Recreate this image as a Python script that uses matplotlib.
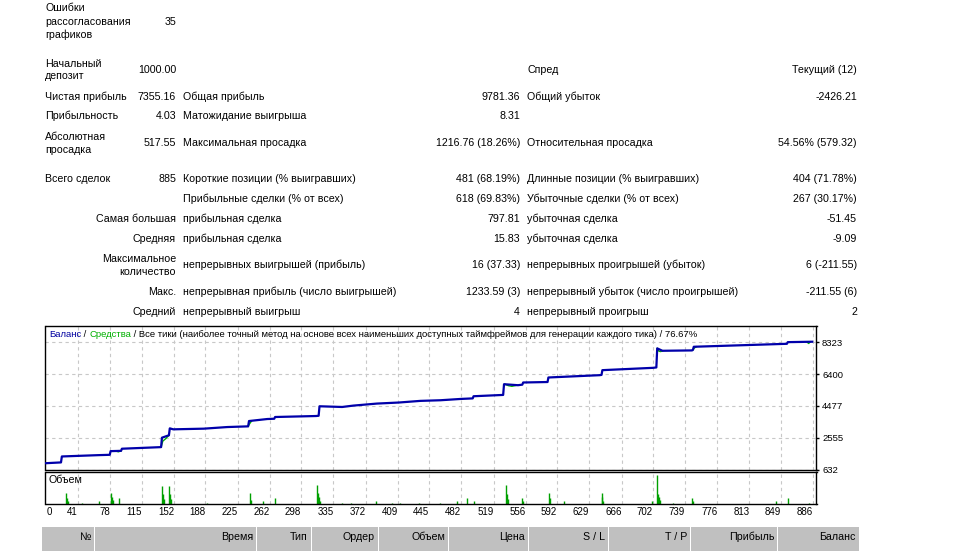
import matplotlib
matplotlib.use("Agg")
import matplotlib.pyplot as plt

plt.rcParams['font.family'] = ['Liberation Sans', 'DejaVu Sans']

W, H = 954, 551

# --- balance curve (trade number, balance) ---
bal_n = [0, 22, 23, 65, 78, 79, 91, 92, 137, 138, 146, 147, 151, 186, 213, 237, 238,
         259, 267, 268, 315, 318, 319, 345, 358, 385, 410, 435, 458, 481, 495, 496,
         530, 531, 547, 552, 553, 581, 582, 641, 643, 644, 702, 706, 707, 713, 747,
         748, 749, 856, 857, 885]
bal_v = [1000, 1060, 1420, 1500, 1520, 1742, 1760, 1888, 1985, 2555, 2700, 3119, 3060,
         3100, 3198, 3240, 3562, 3683, 3700, 3805, 3865, 3880, 4454, 4411, 4495, 4617,
         4680, 4780, 4818, 4896, 4930, 5060, 5140, 5788, 5727, 5760, 5891, 5920, 6194,
         6334, 6350, 6637, 6777, 6800, 7953, 7808, 7830, 7860, 8051, 8230, 8330, 8355]

# equity only differs from balance in a few short stretches
eq_parts = [
    ([137, 139, 142, 146], [1985, 2350, 2480, 2700]),
    ([85, 88, 91], [1742, 1700, 1760]),
    ([237, 239, 241], [3240, 3420, 3562]),
    ([532, 536, 540, 546], [5788, 5700, 5660, 5727]),
    ([707, 709, 711, 713], [7953, 7780, 7760, 7808]),
    ([748, 750, 752], [7860, 7990, 8051]),
    ([879, 881, 883], [8340, 8250, 8350]),
]

# --- volume bars (trade number, lots) ---
vol_n = [28, 29, 30, 46, 66, 80, 81, 82, 89, 138, 139, 140, 146, 147, 148, 190, 239,
         240, 254, 268, 316, 317, 318, 319, 345, 355, 384, 402, 411, 433, 457, 477, 488,
         497, 533, 534, 535, 552, 553, 583, 584, 600, 643, 644, 645, 701, 707, 708, 709,
         710, 725, 747, 748, 843, 857, 881]
vol_v = [1.1, 0.6, 0.3, 0.1, 0.3, 1.1, 0.7, 0.4, 0.6, 1.8, 1.0, 0.5, 1.8, 1.0, 0.5, 0.1,
         1.1, 0.4, 0.3, 0.6, 1.9, 1.1, 0.7, 0.3, 0.1, 0.1, 0.3, 0.1, 0.1, 0.1, 0.1, 0.3,
         0.6, 0.3, 1.9, 1.0, 0.5, 0.6, 0.3, 1.1, 0.6, 0.3, 1.1, 0.7, 0.3, 0.3, 2.9, 1.0,
         0.7, 0.4, 0.1, 0.6, 0.3, 0.3, 0.6, 0.1]

y_ticks = [632, 2555, 4477, 6400, 8323]
x_ticks = [41, 78, 115, 152, 188, 225, 262, 298, 335, 372, 409, 445, 482, 519, 556,
           592, 629, 666, 702, 739, 776, 813, 849, 886]

# --- report table text ---
col1 = [  # (y of lines, label lines, y of value, value)
    ([8, 22, 35], ["Ошибки", "рассогласования", "графиков"], 22, "35"),
    ([64, 76], ["Начальный", "депозит"], 70, "1000.00"),
    ([97], ["Чистая прибыль"], 97, "7355.16"),
    ([116], ["Прибыльность"], 116, "4.03"),
    ([137, 150], ["Абсолютная", "просадка"], 143, "517.55"),
    ([179], ["Всего сделок"], 179, "885"),
]
col1_right = [  # right-aligned labels in first column
    ([219], ["Самая большая"]),
    ([239], ["Средняя"]),
    ([259, 272], ["Максимальное", "количество"]),
    ([292], ["Макс."]),
    ([312], ["Средний"]),
]
rows_mid = [  # y, label2, value2, label3, value3
    (70, "", "", "Спред", "Текущий (12)"),
    (97, "Общая прибыль", "9781.36", "Общий убыток", "-2426.21"),
    (116, "Матожидание выигрыша", "8.31", "", ""),
    (143, "Максимальная просадка", "1216.76 (18.26%)", "Относительная просадка", "54.56% (579.32)"),
    (179, "Короткие позиции (% выигравших)", "481 (68.19%)", "Длинные позиции (% выигравших)", "404 (71.78%)"),
    (199, "Прибыльные сделки (% от всех)", "618 (69.83%)", "Убыточные сделки (% от всех)", "267 (30.17%)"),
    (219, "прибыльная сделка", "797.81", "убыточная сделка", "-51.45"),
    (239, "прибыльная сделка", "15.83", "убыточная сделка", "-9.09"),
    (265, "непрерывных выигрышей (прибыль)", "16 (37.33)", "непрерывных проигрышей (убыток)", "6 (-211.55)"),
    (292, "непрерывная прибыль (число выигрышей)", "1233.59 (3)", "непрерывный убыток (число проигрышей)", "-211.55 (6)"),
    (312, "непрерывный выигрыш", "4", "непрерывный проигрыш", "2"),
]
header = ["№", "Время", "Тип", "Ордер", "Объем", "Цена", "S / L", "T / P", "Прибыль", "Баланс"]
header_edges = [42, 95, 257, 312, 379, 449, 529, 609, 691, 778, 860]

FS = 7.7
TXT = "#000000"

fig = plt.figure(figsize=(W / 100, H / 100), dpi=100)
fig.patch.set_facecolor("white")


def ftext(x, y, s, ha="left", **kw):
    return fig.text(x / W, 1 - y / H, s, ha=ha, va="center", fontsize=kw.pop("fontsize", FS),
                    color=kw.pop("color", TXT), **kw)


for ys, lines, vy, val in col1:
    for yy, ln in zip(ys, lines):
        ftext(45, yy, ln)
    ftext(176, vy, val, ha="right")
for ys, lines in col1_right:
    for yy, ln in zip(ys, lines):
        ftext(176, yy, ln, ha="right")
for y, l2, v2, l3, v3 in rows_mid:
    if l2:
        ftext(183, y, l2)
        ftext(520, y, v2, ha="right")
    if l3:
        ftext(527, y, l3)
        ftext(857, y, v3, ha="right")

# --- main balance chart ---
L, R = 45.5, 816.5
ax = fig.add_axes([L / W, 1 - 469.5 / H, (R - L) / W, (469.5 - 326) / H])
for en, ev in eq_parts:
    ax.plot(en, ev, color="#00b000", lw=1.0, zorder=2)
ax.plot(bal_n, bal_v, color="#0000aa", lw=1.6, zorder=3)
ax.set_xlim(4.2, 890)
ax.set_ylim(632, 9306)
ax.set_xticks(x_ticks)
ax.set_yticks(y_ticks)
ax.yaxis.tick_right()
ax.tick_params(axis="y", length=2, width=1, pad=2, labelsize=6.8)
ax.tick_params(axis="x", length=0, labelbottom=False)
ax.grid(True, color="#c8c8c8", ls=(0, (3, 3)), lw=0.8)
for sp in ax.spines.values():
    sp.set_linewidth(1.0)

t = ax.text(3.5 / (R - L), 1 - 8.5 / (469.5 - 326), "Баланс", transform=ax.transAxes,
            fontsize=6.8, color="#0000a0", va="center", ha="left")
pieces = [(" / ", TXT), ("Средства", "#00b000"),
          (" / Все тики (наиболее точный метод на основе всех наименьших доступных таймфреймов для генерации каждого тика) / 76.67%", TXT)]
for s, c in pieces:
    t = ax.annotate(s, xy=(1, 0), xycoords=t, va="bottom", ha="left", fontsize=6.8, color=c)

# --- volume panel ---
av = fig.add_axes([L / W, 1 - 504 / H, (R - L) / W, (504 - 472) / H])
av.vlines(vol_n, 0, vol_v, color="#00a000", lw=1.0)
av.set_xlim(4.2, 890)
av.set_ylim(0, 3.2)
av.set_xticks(x_ticks)
av.set_yticks([])
av.tick_params(axis="x", length=0, labelbottom=False)
av.grid(True, axis="x", color="#c8c8c8", ls=(0, (3, 3)), lw=0.8)
for sp in av.spines.values():
    sp.set_linewidth(1.0)
av.text(3.5 / (R - L), 1 - 8 / (504 - 472), "Объем", transform=av.transAxes,
        fontsize=FS, va="center", ha="left")

# x tick labels, right-aligned at each grid line
lab_y = -8 / (504 - 472)
av.text(0.002, lab_y, "0", transform=av.transAxes, fontsize=7, ha="left", va="center")
for xt in x_ticks:
    av.text(xt, lab_y, str(xt), transform=av.get_xaxis_transform(), fontsize=7,
            ha="right", va="center")

# --- header band of the orders table ---
for i, name in enumerate(header):
    x0, x1 = header_edges[i], header_edges[i + 1]
    fig.patches.append(plt.Rectangle((x0 / W, 0), (x1 - x0 - 1) / W, (551 - 527) / H,
                                     transform=fig.transFigure, facecolor="#c0c0c0",
                                     edgecolor="none"))
    ftext(x1 - 4, 537, name, ha="right")

plt.savefig("out.png", dpi=100)
